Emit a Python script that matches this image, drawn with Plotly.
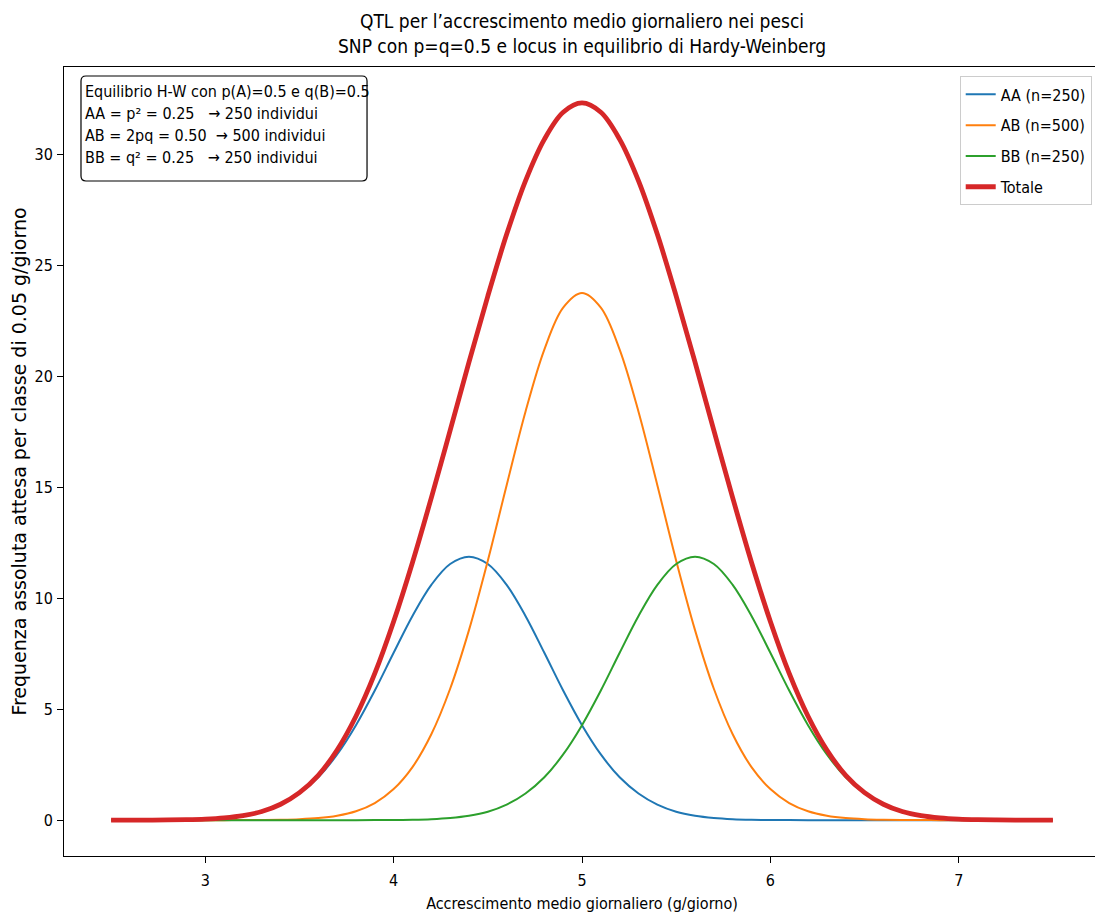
import plotly.graph_objects as go

# class centres (g/giorno), step 0.1
x_vals = [round(2.5 + 0.1 * i, 1) for i in range(51)]

# expected absolute frequency per 0.05 g/giorno class
aa_vals = [0, 0.001, 0.003, 0.008, 0.020, 0.046, 0.10, 0.20, 0.38, 0.70,
           1.20, 1.93, 2.96, 4.28, 5.84, 7.54, 9.20, 10.60, 11.54, 11.87,
           11.54, 10.60, 9.20, 7.54, 5.84, 4.28, 2.96, 1.93, 1.20, 0.70,
           0.38, 0.20, 0.10, 0.046, 0.020, 0.008, 0.003, 0.001, 0, 0,
           0, 0, 0, 0, 0, 0, 0, 0, 0, 0, 0]
ab_vals = [0, 0, 0, 0, 0, 0, 0.001, 0.002, 0.007, 0.017,
           0.040, 0.092, 0.20, 0.40, 0.77, 1.40, 2.39, 3.87, 5.92, 8.56,
           11.69, 15.09, 18.40, 21.20, 23.09, 23.75, 23.09, 21.20, 18.40, 15.09,
           11.69, 8.56, 5.92, 3.87, 2.39, 1.40, 0.77, 0.40, 0.20, 0.092,
           0.040, 0.017, 0.007, 0.002, 0.001, 0, 0, 0, 0, 0, 0]
bb_vals = [0, 0, 0, 0, 0, 0, 0, 0, 0, 0,
           0, 0, 0, 0.001, 0.003, 0.008, 0.020, 0.046, 0.10, 0.20,
           0.38, 0.70, 1.20, 1.93, 2.96, 4.28, 5.84, 7.54, 9.20, 10.60,
           11.54, 11.87, 11.54, 10.60, 9.20, 7.54, 5.84, 4.28, 2.96, 1.93,
           1.20, 0.70, 0.38, 0.20, 0.10, 0.046, 0.020, 0.008, 0.003, 0.001, 0]
tot_vals = [0, 0.001, 0.003, 0.008, 0.020, 0.046, 0.101, 0.202, 0.387, 0.717,
            1.24, 2.02, 3.16, 4.68, 6.61, 8.95, 11.61, 14.52, 17.56, 20.63,
            23.61, 26.39, 28.80, 30.67, 31.89, 32.31, 31.89, 30.67, 28.80, 26.39,
            23.61, 20.63, 17.56, 14.52, 11.61, 8.95, 6.61, 4.68, 3.16, 2.02,
            1.24, 0.717, 0.387, 0.202, 0.101, 0.046, 0.020, 0.008, 0.003, 0.001, 0]

series = [
    ("AA (n=250)", aa_vals, "#1f77b4", 2),
    ("AB (n=500)", ab_vals, "#ff7f0e", 2),
    ("BB (n=250)", bb_vals, "#2ca02c", 2),
    ("Totale", tot_vals, "#d62728", 4.8),
]

info_lines = [
    "Equilibrio H-W con p(A)=0.5 e q(B)=0.5",
    "AA = p² = 0.25   → 250 individui",
    "AB = 2pq = 0.50  → 500 individui",
    "BB = q² = 0.25   → 250 individui",
]

FONT = "DejaVu Sans Condensed, Liberation Sans Narrow, DejaVu Sans"

fig = go.Figure()
for name, vals, col, w in series:
    fig.add_trace(go.Scatter(x=x_vals, y=vals, mode="lines", name=name, legendgroup=name,
                             line=dict(color=col, width=w, shape="spline", smoothing=1)))

axis_style = dict(showline=True, linecolor="black", linewidth=1, mirror=True,
                  ticks="outside", ticklen=6, tickcolor="black", showgrid=False,
                  zeroline=False, automargin=False,
                  tickfont=dict(size=16, family=FONT, color="black"))

# page body adds an 8px offset, so the figure is a bit smaller than the window
fig.update_layout(
    width=1095, height=905,
    margin=dict(l=56, r=3, t=59, b=57),
    plot_bgcolor="white", paper_bgcolor="white",
    font=dict(family=FONT, color="black"),
    xaxis=dict(range=[2.25, 7.75], tickvals=[3, 4, 5, 6, 7], ticklabelstandoff=4,
               title=dict(text="Accrescimento medio giornaliero (g/giorno)",
                          font=dict(size=16, family=FONT), standoff=20),
               **axis_style),
    yaxis=dict(range=[-1.615, 33.93], tickvals=[0, 5, 10, 15, 20, 25, 30], ticklabelstandoff=1,
               title=dict(text="Frequenza assoluta attesa per classe di 0.05 g/giorno",
                          font=dict(size=19, family="DejaVu Sans"), standoff=5),
               **axis_style),
    legend=dict(x=0.992, y=0.988, xanchor="right", yanchor="top",
                bordercolor="#cccccc", borderwidth=1, bgcolor="rgba(255,255,255,0.8)",
                tracegroupgap=7, font=dict(size=16, family=FONT)),
)

# two-line title
fig.add_annotation(
    xref="paper", yref="paper", x=0.5, y=1, xanchor="center", yanchor="bottom", yshift=8,
    text="QTL per l’accrescimento medio giornaliero nei pesci<br>SNP con p=q=0.5 e locus in equilibrio di Hardy-Weinberg",
    showarrow=False, font=dict(size=19, family=FONT),
)

# rounded frame of the text box
fig.add_shape(
    type="path", xref="paper", yref="paper", line=dict(color="black", width=1.2),
    fillcolor="white", layer="above",
    path="M 0.0212,0.9886 L 0.2877,0.9886 Q 0.2925,0.9886 0.2925,0.9823 "
         "L 0.2925,0.8618 Q 0.2925,0.8555 0.2877,0.8555 L 0.0212,0.8555 "
         "Q 0.0164,0.8555 0.0164,0.8618 L 0.0164,0.9823 Q 0.0164,0.9886 0.0212,0.9886 Z",
)
for i, line in enumerate(info_lines):
    fig.add_annotation(
        xref="paper", yref="paper", x=0.0185, y=0.9886, xanchor="left", yanchor="middle",
        yshift=-(16 + 21.7 * i), text=line, align="left", showarrow=False,
        font=dict(size=16, family=FONT),
    )

fig.write_html("out.html")
